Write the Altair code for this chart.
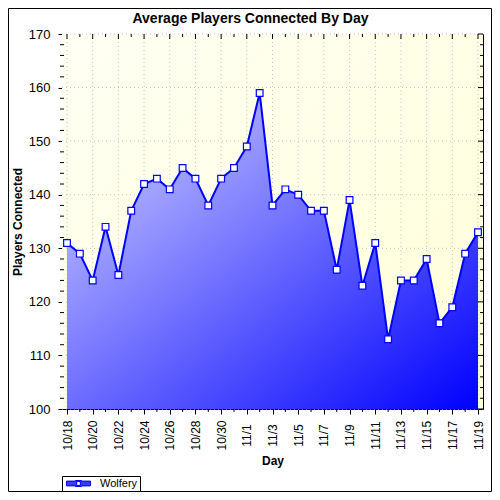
"""Average players connected by day, drawn with Altair."""

import altair as alt
import pandas as pd

FONT = "Liberation Sans"
BLUE = "#0000ff"
INK = "#000000"
GRID = "#c4c4c4"

# data
DAYS = pd.date_range("2011-10-18", "2011-11-19", freq="D").strftime("%Y-%m-%d").tolist()
PLAYERS = [131, 129, 124, 134, 125, 137, 142, 143, 141, 145, 143, 138, 143, 145,
           149, 159, 138, 141, 140, 137, 137, 126, 139, 123, 131, 113, 124, 124,
           128, 116, 119, 129, 133]
SERIES = "Wolfery"
Y_MAJOR = [100, 110, 120, 130, 140, 150, 160, 170]
Y_MINOR = [v for v in range(100, 171, 2) if v % 10]
X_MAJOR = DAYS[::2]
X_MINOR = DAYS[1::2]

W, H = 421, 375
PAD = {"left": 54, "top": 26, "right": 9, "bottom": 83}

LEGEND_SYMBOL = ("M-4,-0.8H-1V-1H1V-0.8H4V0.8H1V1H-1V0.8H-4Z "
                 "M-0.62,-0.62V0.62H0.62V-0.62Z")

df = pd.DataFrame({"day": DAYS, "players": PLAYERS, "series": SERIES})

x_scale = alt.Scale(type="utc", padding=5, nice=False)
y_scale = alt.Scale(domain=[100, 170], nice=False, zero=False)

x_axis = alt.Axis(
    values=[alt.DateTime(year=int(d[:4]), month=int(d[5:7]), date=int(d[8:]), utc=True) for d in X_MAJOR],
    labelExpr="utcFormat(datum.value, '%-m/%-d')",
    labelAngle=-90, labelAlign="center", labelBaseline="middle",
    labelPadding=21, labelFontSize=12, labelOverlap=False, labelFlush=False, labelBound=False,
    tickSize=5, titlePadding=5, grid=False,
)
y_axis = alt.Axis(values=Y_MAJOR, tickSize=4, labelPadding=8, labelFontSize=13, titlePadding=4, grid=False)


def day_x(field="day"):
    return alt.X(f"{field}:T", scale=x_scale, axis=x_axis, title="Day")


def value_y(field):
    return alt.Y(f"{field}:Q", scale=y_scale, axis=y_axis, title="Players Connected")


plot_bg = alt.Gradient(
    gradient="linear", x1=0, y1=0, x2=1, y2=1,
    stops=[alt.GradientStop(color="#fffff4", offset=0), alt.GradientStop(color="#ffffd8", offset=1)],
)
area_fill = alt.Gradient(
    gradient="linear", x1=0, y1=0, x2=1, y2=1,
    stops=[alt.GradientStop(color="#d8d8ff", offset=0), alt.GradientStop(color=BLUE, offset=1)],
)

base = alt.Chart(df)

background = alt.Chart(pd.DataFrame({"a": [0]})).mark_rect(color=plot_bg).encode(
    x=alt.value(0), x2=alt.value(W), y=alt.value(0), y2=alt.value(H)
)

grid_x = alt.Chart(pd.DataFrame({"day": X_MAJOR})).mark_rule(color=GRID, strokeDash=[1, 3]).encode(
    x=day_x(), y=alt.value(0), y2=alt.value(H)
)
grid_y = alt.Chart(pd.DataFrame({"v": Y_MAJOR})).mark_rule(color=GRID, strokeDash=[1, 3]).encode(
    y=value_y("v"), x=alt.value(0), x2=alt.value(W)
)

area = base.mark_area(color=area_fill).encode(
    x=day_x(),
    y=value_y("players"),
    y2=alt.datum(100),
)

line = base.mark_line(strokeWidth=2).encode(
    x=day_x(),
    y=value_y("players"),
    color=alt.Color(
        "series:N",
        scale=alt.Scale(domain=[SERIES], range=[BLUE]),
        legend=alt.Legend(
            title=None, orient="none", legendX=0, legendY=442,
            symbolType=LEGEND_SYMBOL, symbolSize=36, symbolStrokeWidth=1,
            symbolStrokeColor=BLUE, symbolFillColor="#3b3bff", symbolOffset=9,
            labelFont=FONT, labelFontSize=11, labelColor=INK, labelOffset=16,
            strokeColor=INK, fillColor="white", padding=2, cornerRadius=0,
        ),
    ),
)

points = base.mark_point(
    shape="square", filled=True, fill="white", stroke=BLUE, strokeWidth=1.2, size=45, opacity=1
).encode(x=day_x(), y=value_y("players"))


def x_ticks(days, y0, y1):
    return alt.Chart(pd.DataFrame({"day": days})).mark_rule(color=INK).encode(
        x=day_x(), y=alt.value(y0), y2=alt.value(y1)
    )


def y_ticks(values, x0, x1):
    return alt.Chart(pd.DataFrame({"v": values})).mark_rule(color=INK).encode(
        y=value_y("v"), x=alt.value(x0), x2=alt.value(x1)
    )


ticks = [
    x_ticks(X_MAJOR, 0, 5),
    x_ticks(X_MINOR, 0, 3),
    x_ticks(X_MINOR, H, H + 3),
    y_ticks(Y_MINOR, -2, 2),
    y_ticks(Y_MAJOR, W - 5, W),
    y_ticks(Y_MINOR, W - 3, W),
]

border = alt.Chart(pd.DataFrame({"a": [0]})).mark_rect(
    fillOpacity=0, stroke=INK, strokeWidth=1
).encode(
    x=alt.value(-PAD["left"] + 0.5), x2=alt.value(W + PAD["right"] - 0.5),
    y=alt.value(-PAD["top"] + 0.5), y2=alt.value(H + PAD["bottom"] - 0.5),
)

chart = (
    alt.layer(background, grid_x, grid_y, area, line, points, *ticks, border)
    .properties(
        width=W, height=H,
        autosize=alt.AutoSizeParams(type="none"),
        padding=PAD,
        background="white",
        title=alt.TitleParams(
            "Average Players Connected By Day", font=FONT, fontSize=14, fontWeight="bold",
            color=INK, anchor="middle", frame="group", dx=-22, offset=-18,
        ),
    )
    .configure_axis(
        labelFont=FONT, labelColor=INK, titleFont=FONT, titleFontSize=12, titleFontWeight="bold",
        titleColor=INK, domainColor=INK, tickColor=INK,
    )
    .configure_view(stroke=INK, strokeWidth=1)
)

chart.save("out.html", embed_options={"renderer": "svg", "actions": False})
